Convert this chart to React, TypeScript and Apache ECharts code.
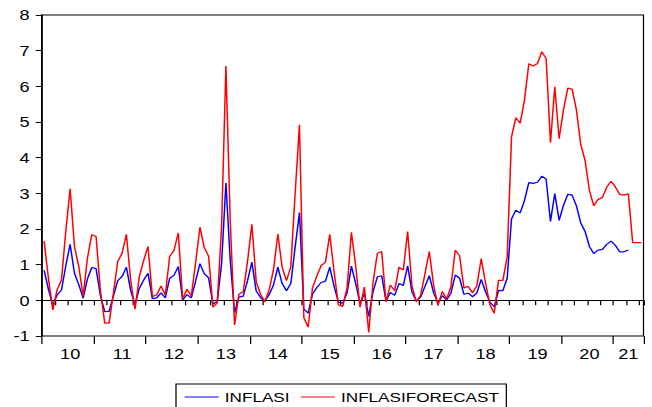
import React, { useEffect, useRef } from "react";
import * as echarts from "echarts";

// ---- data (monthly, Jan 2010 .. Jul 2021) ----
const START_YEAR = 2010;
const MONTH_COUNT = 139;
const categories: string[] = Array.from({ length: MONTH_COUNT }, (_, i) => {
  const y = START_YEAR + Math.floor(i / 12);
  const m = (i % 12) + 1;
  return `${y}-${m < 10 ? "0" + m : m}`;
});

const inflasi: (number | null)[] = [
  // 2010
  0.84, 0.30, -0.14, 0.15, 0.29, 0.97, 1.57, 0.76, 0.44, 0.06, 0.60, 0.92,
  // 2011
  0.89, 0.13, -0.32, -0.31, 0.12, 0.55, 0.67, 0.93, 0.27, -0.12, 0.34, 0.57,
  // 2012
  0.76, 0.05, 0.07, 0.21, 0.07, 0.62, 0.70, 0.95, 0.01, 0.16, 0.07, 0.54,
  // 2013
  1.03, 0.75, 0.63, -0.10, -0.03, 1.03, 3.29, 1.12, -0.35, 0.09, 0.12, 0.55,
  // 2014
  1.07, 0.26, 0.08, -0.02, 0.16, 0.43, 0.93, 0.47, 0.27, 0.47, 1.50, 2.46,
  // 2015
  -0.24, -0.36, 0.17, 0.36, 0.50, 0.54, 0.93, 0.39, -0.05, -0.08, 0.21, 0.96,
  // 2016
  0.47, -0.09, 0.19, -0.45, 0.24, 0.66, 0.69, -0.02, 0.22, 0.14, 0.47, 0.42,
  // 2017
  0.97, 0.23, -0.02, 0.09, 0.39, 0.69, 0.21, -0.07, 0.13, 0.01, 0.20, 0.71,
  // 2018
  0.62, 0.17, 0.20, 0.10, 0.21, 0.59, 0.24, -0.05, -0.18, 0.28, 0.27, 0.62,
  // 2019
  2.28, 2.53, 2.45, 2.80, 3.30, 3.28, 3.31, 3.48, 3.40, 2.21, 2.99, 2.24,
  // 2020
  2.66, 2.97, 2.95, 2.65, 2.17, 1.93, 1.51, 1.31, 1.41, 1.43, 1.57, 1.66,
  // 2021
  1.54, 1.36, 1.36, 1.41, null, null, null,
];

const inflasiForecast: number[] = [
  // 2010
  1.66, 0.60, -0.27, 0.30, 0.57, 1.94, 3.13, 1.51, 0.95, 0.11, 1.18, 1.84,
  // 2011
  1.79, 0.26, -0.64, -0.64, 0.20, 1.09, 1.32, 1.85, 0.55, -0.25, 0.67, 1.12,
  // 2012
  1.51, 0.11, 0.15, 0.40, 0.15, 1.23, 1.40, 1.89, 0.04, 0.31, 0.12, 1.06,
  // 2013
  2.05, 1.48, 1.24, -0.19, -0.07, 2.06, 6.57, 2.24, -0.69, 0.17, 0.24, 1.10,
  // 2014
  2.13, 0.52, 0.17, -0.04, 0.30, 0.86, 1.86, 0.92, 0.55, 0.94, 3.00, 4.92,
  // 2015
  -0.48, -0.75, 0.34, 0.68, 0.97, 1.07, 1.85, 0.80, -0.13, -0.17, 0.35, 1.91,
  // 2016
  0.95, -0.19, 0.37, -0.90, 0.50, 1.32, 1.37, -0.04, 0.43, 0.27, 0.93, 0.85,
  // 2017
  1.93, 0.40, -0.04, 0.14, 0.74, 1.37, 0.42, -0.15, 0.25, 0.03, 0.38, 1.41,
  // 2018
  1.25, 0.35, 0.39, 0.21, 0.41, 1.17, 0.48, -0.12, -0.36, 0.56, 0.56, 1.22,
  // 2019
  4.58, 5.12, 4.97, 5.62, 6.63, 6.57, 6.64, 6.97, 6.78, 4.42, 5.99, 4.53,
  // 2020
  5.34, 5.95, 5.92, 5.34, 4.37, 3.92, 3.08, 2.65, 2.83, 2.88, 3.17, 3.34,
  // 2021
  3.18, 2.97, 2.95, 2.99, 1.62, 1.62, 1.62,
];

const seriesNames = ["INFLASI", "INFLASIFORECAST"];
const seriesColors = ["#0000ff", "#ff0000"];
const Y_MIN = -1;
const Y_MAX = 8;
const Y_STEP = 1;

// the reference picture is stretched horizontally
const STRETCH = 1.25;
const FULL_W = 652;
const FULL_H = 407;
const BASE_W = FULL_W / STRETCH;

const FONT = "Liberation Sans, Arial, sans-serif";

export default function App() {
  const ref = useRef<HTMLDivElement>(null);

  useEffect(() => {
    if (!ref.current) return;
    const chart = echarts.init(ref.current, null, { renderer: "svg" });
    const plotLeft = 42 / STRETCH;
    const plotRight = BASE_W - 643 / STRETCH;

    const showYearLabel = (i: number) => {
      if (i >= 132) return i === 135;
      return i % 12 === 6;
    };

    chart.setOption({
      animation: false,
      backgroundColor: "#ffffff",
      grid: {
        left: plotLeft,
        right: plotRight,
        top: 15,
        bottom: FULL_H - 336,
        show: true,
        borderColor: "#000",
        borderWidth: 1,
        backgroundColor: "transparent",
      },
      legend: {
        data: seriesNames,
        left: 176 / STRETCH,
        top: 384,
        orient: "horizontal",
        padding: [6, 6, 8, 6.4],
        borderColor: "#000",
        borderWidth: 1,
        itemWidth: 34 / STRETCH,
        itemHeight: 14,
        itemGap: 8.5,
        itemStyle: { opacity: 0 },
        lineStyle: { width: 1 },
        textStyle: { fontFamily: FONT, fontSize: 13.7, color: "#000" },
      },
      xAxis: [
        {
          type: "category",
          data: categories,
          boundaryGap: true,
          position: "bottom",
          axisLine: { show: true, lineStyle: { color: "#000", width: 1 } },
          axisTick: {
            show: true,
            interval: (i: number) => i % 3 === 0,
            length: 5,
            lineStyle: { color: "#000", width: 1 },
          },
          axisLabel: {
            show: true,
            interval: (i: number) => showYearLabel(i),
            formatter: (v: string) => v.slice(2, 4),
            fontFamily: FONT,
            fontSize: 14.5,
            color: "#000",
            margin: 10,
          },
          splitLine: { show: false },
        },
        {
          type: "category",
          data: categories,
          boundaryGap: true,
          position: "bottom",
          axisLine: { show: false },
          axisTick: {
            show: true,
            interval: (i: number) => i % 12 === 0,
            length: 8,
            lineStyle: { color: "#000", width: 1 },
          },
          axisLabel: { show: false },
          splitLine: { show: false },
        },
      ],
      yAxis: {
        type: "value",
        min: Y_MIN,
        max: Y_MAX,
        interval: Y_STEP,
        axisLine: { show: true, lineStyle: { color: "#000", width: 1.3 } },
        axisTick: { show: true, length: 5, lineStyle: { color: "#000", width: 1 } },
        axisLabel: {
          fontFamily: FONT,
          fontSize: 14.5,
          color: "#000",
          margin: 10,
        },
        splitLine: { show: false },
      },
      series: [
        {
          name: seriesNames[0],
          type: "line",
          xAxisIndex: 0,
          data: inflasi,
          symbol: "none",
          connectNulls: false,
          lineStyle: { color: seriesColors[0], width: 1.2 },
          itemStyle: { color: seriesColors[0] },
        },
        {
          name: seriesNames[1],
          type: "line",
          xAxisIndex: 0,
          data: inflasiForecast,
          symbol: "none",
          lineStyle: { color: seriesColors[1], width: 1.2 },
          itemStyle: { color: seriesColors[1] },
        },
      ],
    });
    return () => chart.dispose();
  }, []);

  return (
    <div
      ref={ref}
      style={{
        position: "absolute",
        left: 0,
        top: 0,
        width: BASE_W,
        height: FULL_H,
        transform: `scaleX(${STRETCH})`,
        transformOrigin: "0 0",
        background: "#fff",
      }}
    />
  );
}
